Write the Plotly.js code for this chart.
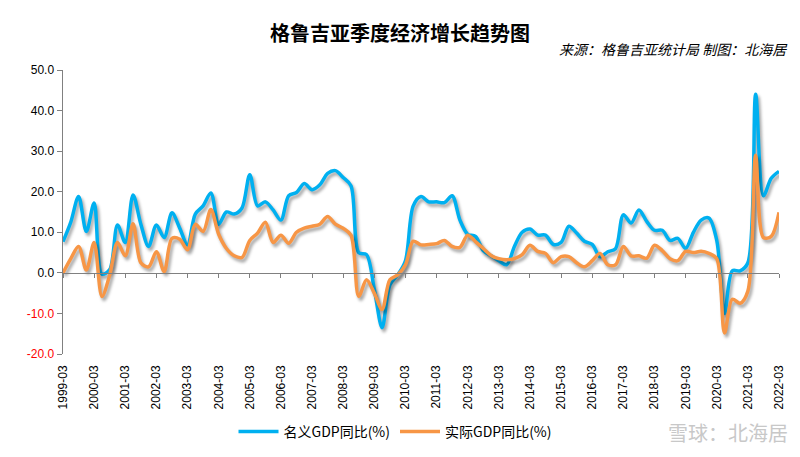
<!DOCTYPE html>
<html>
<head>
<meta charset="utf-8">
<script src="https://cdn.plot.ly/plotly-3.0.1.min.js"></script>
<style>
  html, body { margin: 0; padding: 0; background: #fff; }
  #chart { width: 800px; height: 457px; }
  .scatterlayer .js-line { filter: drop-shadow(2px 3px 1.5px rgba(0,0,0,0.35)); }
</style>
</head>
<body>
<div id="chart"></div>
<script>
// Years shown on the category axis (one label per year, at the March quarter)
const years = [1999,2000,2001,2002,2003,2004,2005,2006,2007,2008,2009,2010,2011,2012,2013,2014,2015,2016,2017,2018,2019,2020,2021,2022];
const months = ['03','06','09','12'];

// Nominal GDP YoY (%), quarterly 1999-03 .. 2022-03
const nominalGDP = [
  7.7, 12.5, 18.8, 10.2,
  17.2, -0.3, 0.8, 11.8,
  7.5, 19.2, 12.0, 6.5,
  11.8, 8.7, 14.8, 11.0,
  6.9, 14.5, 16.5, 19.7,
  12.0, 15.0, 14.5, 16.0,
  24.2, 16.5, 17.5, 15.5,
  13.0, 19.0, 19.8, 22.0,
  20.5, 21.7, 24.5, 25.2,
  23.5, 21.5, 5.0, 4.5,
  -4.0, -13.5, -3.0, -0.5,
  3.0, 16.5, 18.8, 17.5,
  17.5, 17.3, 19.0, 13.0,
  9.5, 9.0, 5.5, 4.2,
  3.0, 2.0, 6.5, 10.0,
  10.8, 9.3, 9.3, 7.0,
  7.5, 11.5, 9.8, 7.8,
  7.0, 4.0, 5.2, 6.0,
  14.3, 12.3, 15.5, 12.7,
  10.5, 10.5, 8.0, 8.5,
  6.0, 10.0, 13.0, 13.5,
  8.0, -10.0, 0.5, 0.5,
  2.5, 44.0, 19.0, 23.3,
  25.0
];

// Real GDP YoY (%), quarterly 1999-03 .. 2022-03
const realGDP = [
  0.0, 3.5, 6.5, 0.7,
  7.5, -5.8, -0.5, 7.5,
  4.2, 12.1, 2.5, 1.5,
  5.2, 0.3, 8.5, 8.3,
  5.7, 12.0, 10.2, 15.6,
  9.5, 6.0, 4.2, 3.8,
  8.0, 9.8, 12.5, 7.5,
  9.3, 7.3, 10.0, 11.0,
  11.5, 12.0, 13.9, 12.0,
  11.0, 9.3, -5.8, -1.7,
  -5.0, -9.0, -1.7, -0.5,
  2.0, 7.8, 6.9, 7.0,
  7.2, 8.0, 6.5, 6.3,
  9.3, 7.7, 6.0, 4.3,
  3.5, 3.2, 3.5, 4.5,
  6.8, 5.3, 4.8, 2.5,
  4.0, 4.0, 2.5, 1.5,
  3.0, 4.8, 2.0, 2.0,
  6.5, 4.2, 4.2, 3.6,
  6.8, 5.5, 3.5, 3.0,
  5.3, 5.0, 5.3, 4.8,
  3.5, -14.8, -6.5, -7.5,
  -4.5, 29.0, 8.7, 9.0,
  14.9
];

const yTickVals = [-20, -10, 0, 10, 20, 30, 40, 50];

// Build quarter categories and yearly tick labels
const quarters = [];
years.forEach(y => months.forEach(m => quarters.push(y + '-' + m)));
const categories = quarters.slice(0, nominalGDP.length);
const xTickVals = years.map(y => y + '-03');
const yTickText = yTickVals.map(v => v < 0
  ? '<span style="color:#FF0000">' + v.toFixed(1) + '</span>'
  : v.toFixed(1));

const BLUE = '#00B0F0';
const ORANGE = '#F79646';

const traces = [
  {
    x: categories, y: nominalGDP, type: 'scatter', mode: 'lines',
    name: '名义GDP同比(%)', xaxis: 'x', yaxis: 'y',
    line: { color: BLUE, width: 3.5, shape: 'spline', smoothing: 0.9 },
    hoverinfo: 'skip'
  },
  {
    x: categories, y: realGDP, type: 'scatter', mode: 'lines',
    name: '实际GDP同比(%)', xaxis: 'x2', yaxis: 'y',
    line: { color: ORANGE, width: 3.5, shape: 'spline', smoothing: 0.9 },
    hoverinfo: 'skip'
  }
];

const baseFont = 'Liberation Sans, Arial, "Noto Sans CJK SC", sans-serif';
const cjkFont = '"Noto Sans CJK SC", "Liberation Sans", sans-serif';

const layout = {
  width: 800, height: 457,
  margin: { l: 63, r: 21, t: 70, b: 103 },
  paper_bgcolor: '#ffffff',
  plot_bgcolor: '#ffffff',
  font: { family: baseFont, size: 12, color: '#000000' },
  title: {
    text: '<b>格鲁吉亚季度经济增长趋势图</b>',
    font: { family: cjkFont, size: 20, color: '#000000' },
    x: 0.5, xref: 'container', xanchor: 'center',
    y: 1 - 34 / 457, yref: 'container', yanchor: 'middle'
  },
  xaxis: {
    type: 'category',
    range: [0, categories.length - 1],
    tickmode: 'array', tickvals: xTickVals, ticktext: xTickVals,
    tickangle: -90,
    ticks: '', showline: false, showgrid: false, zeroline: false,
    tickfont: { family: baseFont, size: 12, color: '#000000' },
    ticklabelstandoff: 8
  },
  xaxis2: {
    type: 'category',
    overlaying: 'x', matches: 'x',
    anchor: 'free', position: 20 / 70, side: 'bottom',
    range: [0, categories.length - 1],
    tickmode: 'array', tickvals: xTickVals,
    showticklabels: false,
    ticks: 'outside', ticklen: 4, tickwidth: 1, tickcolor: '#808080',
    showline: true, linecolor: '#808080', linewidth: 1.5,
    showgrid: false, zeroline: false
  },
  yaxis: {
    range: [-20, 50],
    tickmode: 'array', tickvals: yTickVals, ticktext: yTickText,
    ticks: 'outside', ticklen: 5, tickwidth: 1, tickcolor: '#808080',
    showline: true, linecolor: '#808080', linewidth: 1.5,
    showgrid: false, zeroline: false,
    tickfont: { family: baseFont, size: 12, color: '#000000' }
  },
  showlegend: true,
  legend: {
    orientation: 'h',
    x: 395 / 800, xref: 'container', xanchor: 'center',
    y: 1 - 432 / 457, yref: 'container', yanchor: 'middle',
    font: { family: cjkFont, size: 14, color: '#000000' },
    itemwidth: 40, tracegroupgap: 0,
    bgcolor: 'rgba(0,0,0,0)'
  },
  annotations: [
    {
      text: '<i>来源：格鲁吉亚统计局 制图：北海居</i>',
      xref: 'paper', yref: 'paper',
      x: 790 / 800 * 1, xanchor: 'right',
      y: 0, yanchor: 'middle',
      showarrow: false,
      font: { family: cjkFont, size: 14, color: '#000000' }
    },
    {
      text: '雪球：北海居',
      xref: 'paper', yref: 'paper',
      x: 1, xanchor: 'right', y: 0, yanchor: 'middle',
      showarrow: false,
      font: { family: cjkFont, size: 20, color: '#C8C8C8' }
    }
  ]
};

// Position annotations in container pixels via paper fractions
(function () {
  const plotL = layout.margin.l, plotR = layout.width - layout.margin.r;
  const plotT = layout.margin.t, plotB = layout.height - layout.margin.b;
  const toPx = (px) => (px - plotL) / (plotR - plotL);
  const toPy = (py) => (plotB - py) / (plotB - plotT);
  layout.annotations[0].x = toPx(790);
  layout.annotations[0].y = toPy(49);
  layout.annotations[1].x = toPx(790);
  layout.annotations[1].y = toPy(432);
})();

Plotly.newPlot('chart', traces, layout, { displayModeBar: false, staticPlot: true });
</script>
</body>
</html>
